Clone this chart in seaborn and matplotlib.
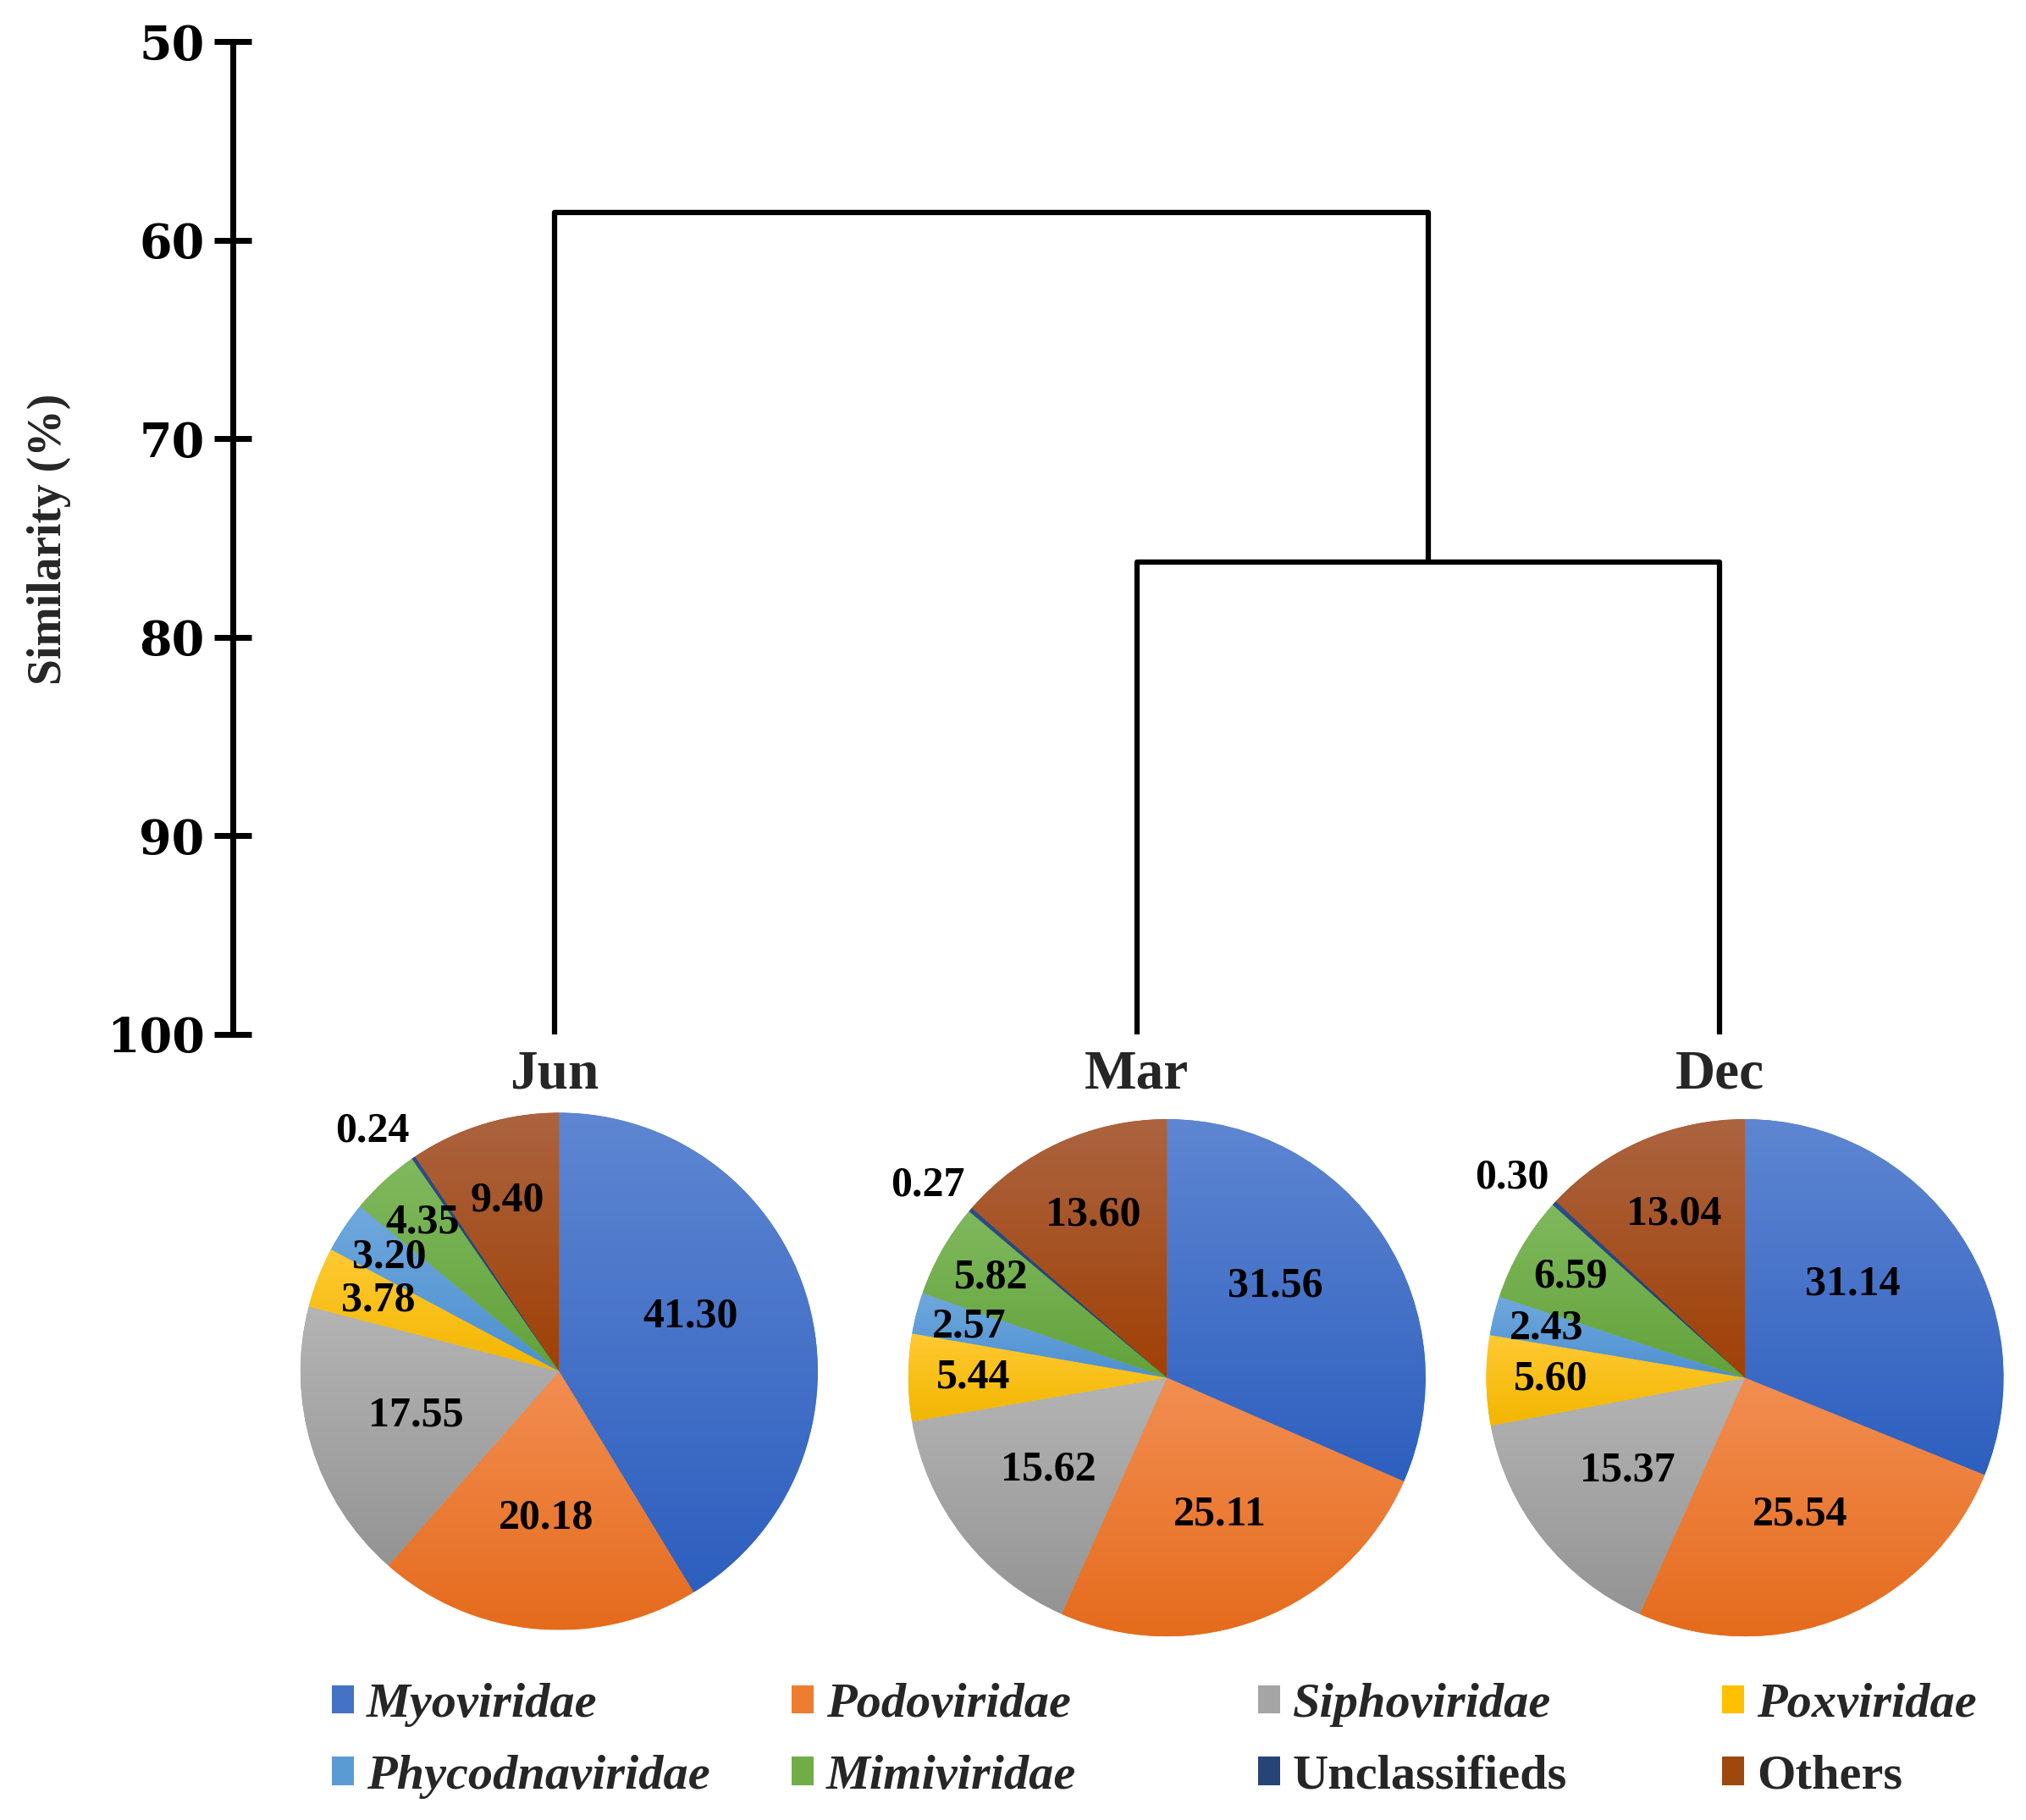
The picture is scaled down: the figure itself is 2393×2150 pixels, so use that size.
import numpy as np
import matplotlib
matplotlib.use("Agg")
import matplotlib.pyplot as plt
import seaborn as sns
import pandas as pd
from matplotlib.colors import LinearSegmentedColormap
from matplotlib.patches import Patch

# ---------------- data ----------------
families = ["Myoviridae", "Podoviridae", "Siphoviridae", "Poxviridae",
            "Phycodnaviridae", "Mimiviridae", "Unclassifieds", "Others"]
months = ["Jun", "Mar", "Dec"]
jun_values = [41.30, 20.18, 17.55, 3.78, 3.20, 4.35, 0.24, 9.40]
mar_values = [31.56, 25.11, 15.62, 5.44, 2.57, 5.82, 0.27, 13.60]
dec_values = [31.14, 25.54, 15.37, 5.60, 2.43, 6.59, 0.30, 13.04]
# dendrogram merge similarities (%)
merge_mar_dec = 76.2
merge_all = 58.6
y_ticks = [50, 60, 70, 80, 90, 100]

# ---------------- style ----------------
grad_light = ["#5E86D2", "#F28E52", "#B4B4B4", "#FFCA33",
              "#6FA8DD", "#80B95E", "#2E4F86", "#AC6440"]
grad_dark = ["#2D5FBF", "#E56B1C", "#949494", "#F2B600",
             "#4D90D0", "#62A23A", "#1F3A66", "#A04005"]
solid = ["#4472C4", "#ED7D31", "#A5A5A5", "#FFC000",
         "#5B9BD5", "#70AD47", "#264478", "#9E480E"]
italic = [True, True, True, True, True, True, False, False]
label_radius = [0.55, 0.57, 0.58, 0.75, 0.79, 0.78, 1.03, 0.69]
label_angle_shift = [7, 0, 0, 0, 0, 0, 0, 0]

sns.set_theme(style="white")
plt.rcParams["font.family"] = ["Liberation Serif", "DejaVu Serif"]
plt.rcParams["font.weight"] = "bold"

W, H = 2393, 2150
fig = plt.figure(figsize=(W / 100, H / 100), dpi=100)
fig.patch.set_facecolor("white")

# ---------------- dendrogram ----------------
ax_left_px, ax_top_px, ax_bot_px = 275, 49, 1222
ax = fig.add_axes([ax_left_px / W, 1 - ax_bot_px / H,
                   (W - ax_left_px) / W, (ax_bot_px - ax_top_px) / H])
ax.set_facecolor("none")
leaf_x = {m: i for i, m in enumerate(months)}
mid_md = (leaf_x["Mar"] + leaf_x["Dec"]) / 2
links = pd.DataFrame({
    "link": ["md"] * 4 + ["all"] * 4,
    "x": [leaf_x["Mar"], leaf_x["Mar"], leaf_x["Dec"], leaf_x["Dec"],
          leaf_x["Jun"], leaf_x["Jun"], mid_md, mid_md],
    "y": [100, merge_mar_dec, merge_mar_dec, 100,
          100, merge_all, merge_all, merge_mar_dec],
})
sns.lineplot(data=links, x="x", y="y", units="link", estimator=None,
             sort=False, color="black", linewidth=4.5, ax=ax, legend=False)
spacing_px = 688.0
leaf0_px = 655.0
ax.set_xlim((ax_left_px - leaf0_px) / spacing_px, (W - leaf0_px) / spacing_px)
ax.set_ylim(100, 50)
ax.set_yticks(y_ticks)
ax.set_yticklabels([str(t) for t in y_ticks])
ax.set_xticks([])
ax.set_xlabel("")
ax.set_ylabel("")
for s in ["top", "right", "bottom"]:
    ax.spines[s].set_visible(False)
ax.spines["left"].set_linewidth(5)
ax.spines["left"].set_color("black")
ax.tick_params(axis="y", direction="inout", length=32, width=5, pad=8,
               left=True, colors="black")
for lab in ax.get_yticklabels():
    lab.set_fontfamily(["DejaVu Serif"])
    lab.set_fontweight("bold")
    lab.set_fontsize(40)

for m in months:
    ax.annotate(m, xy=(leaf_x[m], 100), xytext=(0, -46), textcoords="offset points",
                ha="center", va="baseline", fontsize=47, fontweight="bold",
                annotation_clip=False)

fig.text(58 / W, 1 - 637 / H, "Similarity (%)", rotation=90, ha="center",
         va="center", fontsize=40, fontweight="bold")

# ---------------- pies ----------------
pie_centers = {"Jun": (660.4, 1620.0), "Mar": (1378.3, 1627.6), "Dec": (2061.0, 1627.6)}
radius_px = 305.5
box = 720
lim = (box / 2) / radius_px
values_by_month = {"Jun": jun_values, "Mar": mar_values, "Dec": dec_values}
grad = np.linspace(0, 1, 256).reshape(-1, 1)

for m in months:
    cx, cy = pie_centers[m]
    pax = fig.add_axes([(cx - box / 2) / W, 1 - (cy + box / 2) / H, box / W, box / H])
    vals = values_by_month[m]
    wedges, _ = pax.pie(vals, colors=solid, startangle=90, counterclock=False,
                        radius=1, wedgeprops=dict(linewidth=0, edgecolor="none"))
    for i, w in enumerate(wedges):
        ext = w.get_path().get_extents()
        cmap = LinearSegmentedColormap.from_list("g%d" % i, [grad_light[i], grad_dark[i]])
        im = pax.imshow(grad, cmap=cmap, extent=(ext.x0, ext.x1, ext.y0, ext.y1),
                        origin="upper", aspect="auto", zorder=2, interpolation="bilinear")
        im.set_clip_path(w)
        ang = np.deg2rad((w.theta1 + w.theta2) / 2 + label_angle_shift[i])
        d = label_radius[i]
        x, y = d * np.cos(ang), d * np.sin(ang)
        if d > 1:
            ha = "right" if x < 0 else "left"
            va = "bottom" if y > 0 else "top"
        else:
            ha, va = "center", "center"
        pax.text(x, y, "%.2f" % vals[i], ha=ha, va=va, fontsize=36,
                 fontweight="bold", color="black", zorder=5)
    pax.set_xlim(-lim, lim)
    pax.set_ylim(-lim, lim)
    pax.set_aspect("equal")
    pax.axis("off")

# ---------------- legend ----------------
col_x_px = [392, 935, 1486, 2034]
legend_top_px = 1988
for c in range(4):
    idx = [c, c + 4]
    handles = [Patch(facecolor=solid[i], edgecolor="none") for i in idx]
    leg = fig.legend(handles, [families[i] for i in idx], loc="upper left",
                     bbox_to_anchor=(col_x_px[c] / W, 1 - legend_top_px / H),
                     bbox_transform=fig.transFigure, frameon=False,
                     prop=dict(family=["Liberation Serif"], weight="bold", size=42),
                     handlelength=0.45, handleheight=0.5, handletextpad=0.25,
                     labelspacing=0.56, borderpad=0, borderaxespad=0)
    for t, i in zip(leg.get_texts(), idx):
        t.set_fontfamily(["Liberation Serif"])
        t.set_fontstyle("italic" if italic[i] else "normal")
        t.set_fontweight("bold")

fig.savefig("out.png", dpi=100, facecolor="white")
